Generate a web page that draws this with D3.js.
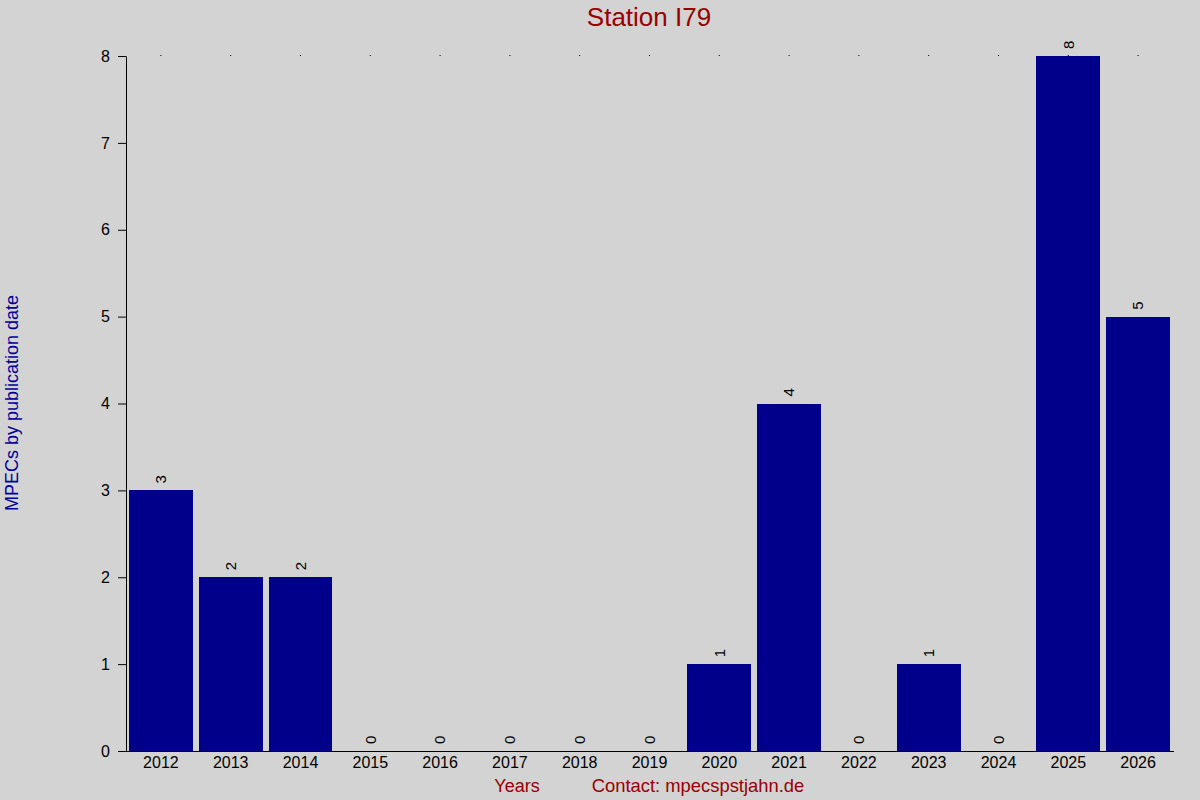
<!DOCTYPE html>
<html>
<head>
<meta charset="utf-8">
<script src="https://cdn.jsdelivr.net/npm/d3@7/dist/d3.min.js"></script>
<style>
  body { margin: 0; background: #d3d3d3; }
  svg { display: block; font-family: "Liberation Sans", Arial, sans-serif; }
</style>
</head>
<body>
<div id="chart"></div>
<script>
const years = ["2012", "2013", "2014", "2015", "2016", "2017", "2018", "2019",
               "2020", "2021", "2022", "2023", "2024", "2025", "2026"];
const counts = [3, 2, 2, 0, 0, 0, 0, 0, 1, 4, 0, 1, 0, 8, 5];
const yTicks = [0, 1, 2, 3, 4, 5, 6, 7, 8];

const data = years.map((y, i) => ({ year: y, count: counts[i] }));

const svgWidth = 1200;
const svgHeight = 800;
const margin = { top: 56, right: 27, bottom: 49, left: 126 };
const width = svgWidth - margin.left - margin.right;
const height = svgHeight - margin.top - margin.bottom;

const svg = d3.select("#chart")
  .append("svg")
  .attr("width", svgWidth)
  .attr("height", svgHeight);

svg.append("rect")
  .attr("width", svgWidth)
  .attr("height", svgHeight)
  .attr("fill", "#d3d3d3");

const g = svg.append("g")
  .attr("transform", `translate(${margin.left},${margin.top})`);

const x = d3.scaleBand()
  .domain(years)
  .range([0, width])
  .paddingInner(0.086)
  .paddingOuter(0.043);

const y = d3.scaleLinear()
  .domain([0, 8])
  .range([height, 0]);

// little dots along the top
const topAxis = g.append("g")
  .call(d3.axisTop(x).tickSize(1).tickFormat(""));
topAxis.select(".domain").remove();

// bars
g.selectAll(".bar")
  .data(data)
  .enter()
  .append("rect")
  .attr("class", "bar")
  .attr("x", d => x(d.year))
  .attr("y", d => y(d.count))
  .attr("width", x.bandwidth())
  .attr("height", d => height - y(d.count))
  .attr("fill", "#00008b")
  .attr("shape-rendering", "crispEdges");

// value labels, rotated
g.selectAll(".val")
  .data(data)
  .enter()
  .append("text")
  .attr("class", "val")
  .attr("transform", d => `translate(${x(d.year) + x.bandwidth() / 2},${y(d.count) - 7}) rotate(-90)`)
  .attr("dy", "0.35em")
  .attr("text-anchor", "start")
  .attr("font-size", 15)
  .attr("fill", "#000")
  .text(d => d.count);

// y axis
const yAxis = g.append("g")
  .call(d3.axisLeft(y).tickValues(yTicks).tickSize(8).tickPadding(8).tickSizeOuter(0));
yAxis.selectAll("text").attr("font-size", 16).attr("fill", "#000");
yAxis.select(".domain").attr("stroke", "#000");

// x axis
const xAxis = g.append("g")
  .attr("transform", `translate(0,${height})`)
  .call(d3.axisBottom(x).tickSize(0).tickPadding(6));
xAxis.select(".domain").attr("d", `M-8,0.5H${width + 1}`).attr("stroke", "#000");
xAxis.selectAll("text").attr("font-size", 16).attr("fill", "#000");

// title
svg.append("text")
  .attr("x", 649)
  .attr("y", 26)
  .attr("text-anchor", "middle")
  .attr("font-size", 26)
  .attr("fill", "#990000")
  .text("Station I79");

// y label
svg.append("text")
  .attr("transform", "translate(18,403) rotate(-90)")
  .attr("text-anchor", "middle")
  .attr("font-size", 18)
  .attr("fill", "#000099")
  .text("MPECs by publication date");

// bottom labels
svg.append("text")
  .attr("x", 517)
  .attr("y", 792)
  .attr("text-anchor", "middle")
  .attr("font-size", 18)
  .attr("fill", "#990000")
  .text("Years");

svg.append("text")
  .attr("x", 698)
  .attr("y", 792)
  .attr("text-anchor", "middle")
  .attr("font-size", 18.4)
  .attr("fill", "#990000")
  .text("Contact: mpecspstjahn.de");
</script>
</body>
</html>
